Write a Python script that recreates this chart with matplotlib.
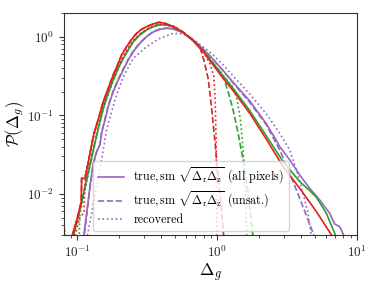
import matplotlib
matplotlib.use("Agg")
import matplotlib.pyplot as plt

plt.rcParams["font.family"] = "serif"
plt.rcParams["font.serif"] = ["cmr10", "DejaVu Serif"]
plt.rcParams["mathtext.fontset"] = "cm"
plt.rcParams["axes.formatter.use_mathtext"] = True

# purple: true all pixels (solid), true unsat. (dashed), recovered (dotted)
pur_all_x = [0.1104, 0.1166, 0.1232, 0.1301, 0.1374, 0.1452, 0.1492, 0.1578, 0.1665, 0.1807,
             0.1963, 0.2131, 0.2313, 0.2512, 0.2803, 0.3128, 0.3490, 0.3895, 0.4346, 0.4850,
             0.5716, 0.6740, 0.7943, 0.9363, 1.104, 1.301, 1.711, 2.251, 2.377, 2.582,
             2.804, 3.304, 3.895, 4.590, 5.412, 6.379, 6.925, 7.518, 8.164, 8.6]
pur_all_y = [0.0026, 0.00568, 0.01239, 0.0245, 0.0345, 0.0420, 0.0590, 0.0872, 0.1289, 0.200,
             0.281, 0.377, 0.505, 0.645, 0.823, 1.0, 1.146, 1.239, 1.276, 1.252,
             1.124, 0.907, 0.697, 0.515, 0.370, 0.2627, 0.1521, 0.0780, 0.066, 0.052,
             0.0400, 0.0271, 0.01744, 0.0118, 0.00839, 0.00568, 0.00415, 0.00384, 0.00281, 0.002]

pur_uns_x = [0.1104, 0.1166, 0.1232, 0.1301, 0.1374, 0.1452, 0.1492, 0.1578, 0.1665, 0.1807,
             0.1963, 0.2131, 0.2313, 0.2512, 0.2803, 0.3128, 0.3490, 0.3895, 0.4346, 0.4850,
             0.5716, 0.6740, 0.7943, 0.9363, 1.104, 1.301, 1.711, 2.251, 2.804, 3.304,
             3.895, 4.467, 4.985, 5.2]
pur_uns_y = [0.0024, 0.0052, 0.0118, 0.0236, 0.0338, 0.0425, 0.061, 0.090, 0.133, 0.205,
             0.288, 0.386, 0.515, 0.655, 0.835, 1.01, 1.16, 1.25, 1.29, 1.265,
             1.135, 0.915, 0.70, 0.515, 0.368, 0.258, 0.146, 0.0754, 0.0362, 0.0183,
             0.00881, 0.00467, 0.00281, 0.002]

pur_rec_x = [0.1166, 0.1266, 0.1374, 0.1492, 0.1620, 0.1858, 0.2131, 0.2512, 0.3128, 0.3895,
             0.4850, 0.5716, 0.6740, 0.7943, 0.9363, 1.104, 1.301, 1.711, 2.251, 2.804,
             3.304, 3.687, 4.115, 4.467, 4.719, 4.85]
pur_rec_y = [0.0026, 0.00568, 0.01239, 0.0271, 0.0651, 0.1566, 0.310, 0.530, 0.746, 0.952,
             1.102, 1.081, 0.925, 0.746, 0.585, 0.436, 0.316, 0.1867, 0.104, 0.0590,
             0.0362, 0.0202, 0.0102, 0.00568, 0.00281, 0.002]

# green
grn_all_x = [0.0911, 0.1045, 0.1166, 0.1301, 0.1413, 0.1534, 0.1665, 0.1807, 0.1963, 0.2131,
             0.2313, 0.2512, 0.2803, 0.3128, 0.3490, 0.3895, 0.4346, 0.4985, 0.5716, 0.6740,
             0.7943, 0.9363, 1.104, 1.301, 1.711, 2.251, 2.961, 3.895, 4.590, 5.124,
             6.039, 7.118, 7.5]
grn_all_y = [0.00236, 0.00626, 0.01507, 0.0362, 0.0684, 0.1227, 0.1905, 0.281, 0.396, 0.530,
             0.677, 0.864, 1.050, 1.215, 1.340, 1.420, 1.407, 1.301, 1.124, 0.890,
             0.657, 0.458, 0.316, 0.2204, 0.1146, 0.0546, 0.0258, 0.01435, 0.01103, 0.00907,
             0.00568, 0.00281, 0.002]

grn_uns_x = [0.0911, 0.1045, 0.1166, 0.1301, 0.1413, 0.1534, 0.1665, 0.1807, 0.1963, 0.2131,
             0.2313, 0.2512, 0.2803, 0.3128, 0.3490, 0.3895, 0.4346, 0.4985, 0.5716, 0.6740,
             0.7943, 0.9363, 1.104, 1.198, 1.301, 1.413, 1.534, 1.665, 1.808, 1.85]
grn_uns_y = [0.0024, 0.0064, 0.0153, 0.0368, 0.0695, 0.1245, 0.193, 0.285, 0.401, 0.537,
             0.686, 0.875, 1.064, 1.231, 1.357, 1.438, 1.425, 1.318, 1.138, 0.90,
             0.665, 0.462, 0.315, 0.200, 0.1169, 0.0590, 0.0271, 0.0102, 0.00281, 0.002]

grn_rec_x = [0.0805, 0.0815, 0.0825, 0.1017, 0.1045, 0.1166, 0.1301, 0.1413, 0.1534, 0.1665,
             0.1807, 0.1963, 0.2131, 0.2313, 0.2512, 0.2803, 0.3128, 0.3490, 0.3895, 0.4346,
             0.4985, 0.5716, 0.6740, 0.7943, 0.9363, 1.104, 1.301, 1.390, 1.468, 1.534,
             1.585, 1.629, 1.64]
grn_rec_y = [0.0034, 0.0034, 0.0015, 0.0015, 0.0055, 0.0140, 0.0345, 0.0660, 0.1190, 0.187,
             0.278, 0.395, 0.532, 0.682, 0.872, 1.062, 1.228, 1.355, 1.432, 1.420,
             1.312, 1.132, 0.895, 0.662, 0.462, 0.322, 0.227, 0.1566, 0.0872, 0.0362,
             0.01239, 0.0026, 0.002]

# red
red_all_x = [0.0886, 0.1, 0.1068, 0.1074, 0.1141, 0.1232, 0.1315, 0.1420, 0.1534, 0.1665,
             0.1807, 0.1963, 0.2074, 0.2252, 0.2444, 0.2653, 0.2881, 0.3128, 0.3490, 0.3852,
             0.4228, 0.4850, 0.5716, 0.6740, 0.7943, 0.9363, 1.104, 1.301, 1.711, 2.251,
             2.961, 3.895, 5.124, 6.739, 7.2]
red_all_y = [0.00236, 0.00491, 0.00799, 0.0158, 0.0158, 0.0329, 0.0590, 0.0916, 0.1492, 0.2204,
             0.3256, 0.458, 0.585, 0.746, 0.925, 1.102, 1.239, 1.340, 1.449, 1.521,
             1.477, 1.340, 1.135, 0.890, 0.645, 0.436, 0.2954, 0.2059, 0.106, 0.0495,
             0.0223, 0.0118, 0.00596, 0.00281, 0.002]

red_uns_x = [0.0886, 0.1, 0.1068, 0.1074, 0.1141, 0.1232, 0.1315, 0.1420, 0.1534, 0.1665,
             0.1807, 0.1963, 0.2074, 0.2252, 0.2444, 0.2653, 0.2881, 0.3128, 0.3490, 0.3852,
             0.4228, 0.4850, 0.5716, 0.6740, 0.752, 0.803, 0.862, 0.911, 0.962, 1.017,
             1.068, 1.116, 1.13]
red_uns_y = [0.00236, 0.00491, 0.00799, 0.0158, 0.0158, 0.0329, 0.0590, 0.0916, 0.1492, 0.2204,
             0.3256, 0.458, 0.585, 0.746, 0.925, 1.102, 1.239, 1.345, 1.456, 1.530,
             1.487, 1.350, 1.142, 0.893, 0.746, 0.505, 0.2954, 0.1289, 0.0486, 0.0166,
             0.0069, 0.00281, 0.002]

red_rec_x = [0.0947, 0.1045, 0.1116, 0.1141, 0.1219, 0.1301, 0.1413, 0.1534, 0.1665, 0.1807,
             0.1963, 0.2131, 0.2313, 0.2512, 0.2803, 0.3128, 0.3490, 0.3895, 0.4346, 0.4985,
             0.5716, 0.6740, 0.7943, 0.886, 0.947, 0.968, 0.9837, 0.9945, 0.996]
red_rec_y = [0.0026, 0.00515, 0.00568, 0.0183, 0.0298, 0.0510, 0.0872, 0.1421, 0.214, 0.304,
             0.432, 0.568, 0.725, 0.890, 1.081, 1.239, 1.353, 1.420, 1.435, 1.340,
             1.146, 0.898, 0.645, 0.458, 0.316, 0.1566, 0.0486, 0.0026, 0.002]

purple = "#9467bd"
green = "#2ca02c"
red = "#e41f1f"

fig = plt.figure(figsize=(3.74, 2.88), dpi=100)
ax = fig.add_axes([0.171, 0.183, 0.7835, 0.773])

lw = 1.2
ax.plot(pur_all_x, pur_all_y, color=purple, lw=lw, ls="-",
        label=r"$\mathrm{true, sm}\ \sqrt{\Delta_\mathrm{r}\Delta_\mathrm{z}}$ (all pixels)")
ax.plot(pur_uns_x, pur_uns_y, color=purple, lw=lw, ls="--",
        label=r"$\mathrm{true, sm}\ \sqrt{\Delta_\mathrm{r}\Delta_\mathrm{z}}$ (unsat.)")
ax.plot(pur_rec_x, pur_rec_y, color=purple, lw=lw, ls=":", label="recovered")

ax.plot(grn_all_x, grn_all_y, color=green, lw=lw, ls="-")
ax.plot(grn_uns_x, grn_uns_y, color=green, lw=lw, ls="--")
ax.plot(grn_rec_x, grn_rec_y, color=green, lw=lw, ls=":")

ax.plot(red_all_x, red_all_y, color=red, lw=lw, ls="-")
ax.plot(red_uns_x, red_uns_y, color=red, lw=lw, ls="--")
ax.plot(red_rec_x, red_rec_y, color=red, lw=lw, ls=":")

ax.set_xscale("log")
ax.set_yscale("log")
ax.set_xlim(0.0803, 10)
ax.set_ylim(0.00298, 2.02)

for s in ax.spines.values():
    s.set_color("#333333")
ax.tick_params(which="both", colors="#333333", labelsize=9.5, labelcolor="#222222")

ax.set_xlabel(r"$\Delta_g$", fontsize=12.5, labelpad=1)
ax.set_ylabel(r"$\mathcal{P}(\Delta_g)$", fontsize=12, labelpad=1)

ax.legend(loc="lower left", bbox_to_anchor=(0.099, 0.019), borderaxespad=0,
          fontsize=8.7, handlelength=2.2, handletextpad=0.75, labelspacing=0.3)

plt.savefig("out.png", dpi=100)
